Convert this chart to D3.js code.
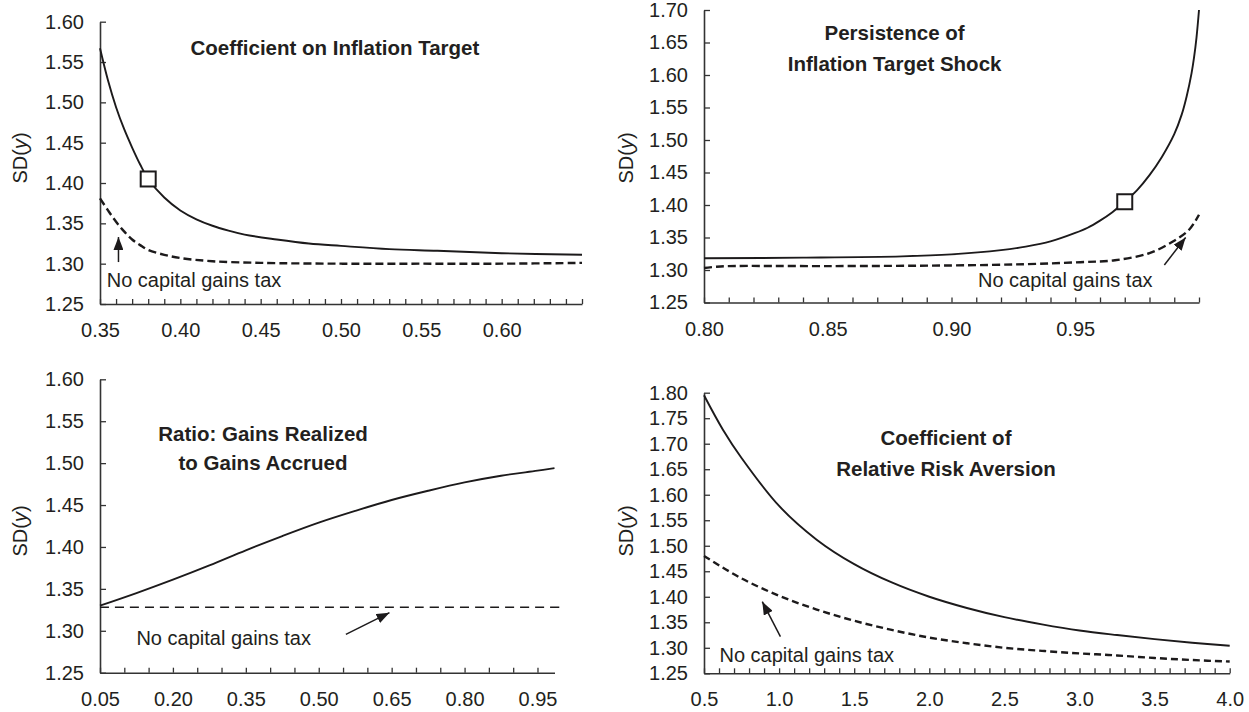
<!DOCTYPE html>
<html><head><meta charset="utf-8">
<script src="https://cdn.jsdelivr.net/npm/d3@7"></script>
<style>
body{margin:0;background:#fff}
text{font-family:"Liberation Sans",Arial,Helvetica,sans-serif;fill:#231f20}
</style>
</head><body>
<svg id="chart" width="1249" height="712"></svg>
<script>
// ---------- Panel 1: Coefficient on Inflation Target ----------
const p1SolidX  = [0.35,0.355,0.36,0.365,0.37,0.375,0.38,0.39,0.40,0.41,0.42,0.43,0.44,0.46,0.48,0.50,0.53,0.56,0.60,0.65];
const p1SolidY  = [1.567,1.527,1.494,1.467,1.444,1.423,1.405,1.382,1.366,1.355,1.347,1.341,1.336,1.330,1.325,1.322,1.318,1.316,1.313,1.311];
const p1DashX   = [0.35,0.355,0.36,0.365,0.37,0.375,0.38,0.39,0.40,0.42,0.45,0.50,0.55,0.60,0.65];
const p1DashY   = [1.381,1.366,1.352,1.340,1.330,1.323,1.317,1.311,1.307,1.303,1.301,1.300,1.300,1.300,1.301];
const p1Marker  = [0.38,1.405];
const p1XLabels = [0.35,0.40,0.45,0.50,0.55,0.60];
const p1YLabels = [1.25,1.30,1.35,1.40,1.45,1.50,1.55,1.60];
const p1Title   = ["Coefficient on Inflation Target"];

// ---------- Panel 2: Persistence of Inflation Target Shock ----------
const p2SolidX  = [0.80,0.84,0.88,0.90,0.92,0.93,0.94,0.95,0.955,0.96,0.965,0.97,0.975,0.98,0.985,0.99,0.993,0.995,0.997,0.998,0.999,1.00];
const p2SolidY  = [1.318,1.319,1.321,1.324,1.3305,1.336,1.344,1.357,1.365,1.376,1.389,1.405,1.423,1.446,1.474,1.509,1.539,1.567,1.603,1.627,1.658,1.700];
const p2DashX   = [0.80,0.805,0.81,0.85,0.90,0.93,0.952,0.966,0.98,0.99,0.996,1.00];
const p2DashY   = [1.303,1.305,1.306,1.306,1.307,1.309,1.312,1.315,1.326,1.345,1.362,1.385];
const p2Marker  = [0.97,1.405];
const p2XLabels = [0.80,0.85,0.90,0.95];
const p2YLabels = [1.25,1.30,1.35,1.40,1.45,1.50,1.55,1.60,1.65,1.70];
const p2Title   = ["Persistence of","Inflation Target Shock"];

// ---------- Panel 3: Ratio: Gains Realized to Gains Accrued ----------
const p3SolidX  = [0.05,0.125,0.20,0.275,0.35,0.425,0.50,0.575,0.65,0.725,0.80,0.875,0.95,0.985];
const p3SolidY  = [1.330,1.345,1.361,1.378,1.396,1.413,1.429,1.443,1.456,1.467,1.477,1.485,1.491,1.494];
const p3DashX   = [0.05,0.35,0.65,1.00];
const p3DashY   = [1.328,1.328,1.328,1.328];
const p3XLabels = [0.05,0.20,0.35,0.50,0.65,0.80,0.95];
const p3YLabels = [1.25,1.30,1.35,1.40,1.45,1.50,1.55,1.60];
const p3Title   = ["Ratio: Gains Realized","to Gains Accrued"];

// ---------- Panel 4: Coefficient of Relative Risk Aversion ----------
const p4SolidX  = [0.5,0.625,0.75,1.0,1.25,1.5,1.75,2.0,2.25,2.5,2.75,3.0,3.25,3.5,3.75,4.0];
const p4SolidY  = [1.795,1.728,1.672,1.578,1.512,1.464,1.428,1.400,1.378,1.360,1.346,1.334,1.325,1.317,1.310,1.304];
const p4DashX   = [0.5,0.75,1.0,1.25,1.5,1.75,2.0,2.25,2.5,2.75,3.0,3.25,3.5,3.75,4.0];
const p4DashY   = [1.480,1.436,1.402,1.375,1.353,1.335,1.320,1.309,1.300,1.294,1.289,1.285,1.280,1.276,1.273];
const p4XLabels = [0.5,1.0,1.5,2.0,2.5,3.0,3.5,4.0];
const p4YLabels = [1.25,1.30,1.35,1.40,1.45,1.50,1.55,1.60,1.65,1.70,1.75,1.80];
const p4Title   = ["Coefficient of","Relative Risk Aversion"];

const noteText = "No capital gains tax";

// ---------- layout ----------
const svg = d3.select("#chart");
const INK = "#1c1a1b", AXIS = "#333";
const FS = "20px";

svg.append("defs").append("marker")
  .attr("id","ah").attr("viewBox","0 0 13 10").attr("refX",13).attr("refY",5)
  .attr("markerWidth",13).attr("markerHeight",10).attr("markerUnits","userSpaceOnUse")
  .attr("orient","auto")
  .append("path").attr("d","M0,0L13,5L0,10z").attr("fill",INK);

const panels = [
  {box:[100,582,21.7,304], xd:[0.35,0.65], yd:[1.25,1.60], minor:0.01, fmt:d3.format(".2f"),
   xl:p1XLabels, yl:p1YLabels, solid:[p1SolidX,p1SolidY], dash:[p1DashX,p1DashY], dashStyle:"8,4", dashW:2.4,
   marker:p1Marker, title:p1Title, titlePos:[0.4962,1.5587], lineGap:0,
   note:[0.3542,1.2715], arrow:[[0.3615,1.302],[0.3615,1.333]], ylab:[20,158]},
  {box:[704,1199,10,302.5], xd:[0.80,1.00], yd:[1.25,1.70], minor:0.01, fmt:d3.format(".2f"),
   xl:p2XLabels, yl:p2YLabels, solid:[p2SolidX,p2SolidY], dash:[p2DashX,p2DashY], dashStyle:"8,4", dashW:2.4,
   marker:p2Marker, title:p2Title, titlePos:[0.877,1.6538], lineGap:30.7,
   note:[0.9107,1.2743], arrow:[[0.986,1.3077],[0.9946,1.350]], ylab:[626,158]},
  {box:[100,554.5,379.3,672.7], xd:[0.05,0.985], yd:[1.25,1.60], minor:0.05, fmt:d3.format(".2f"),
   xl:p3XLabels, yl:p3YLabels, solid:[p3SolidX,p3SolidY], dash:[p3DashX,p3DashY], dashStyle:"9,6", dashW:1.4,
   marker:null, title:p3Title, titlePos:[0.3854,1.5264], lineGap:29,
   note:[0.1249,1.283], arrow:[[0.5558,1.2958],[0.6455,1.3216]], ylab:[20,531]},
  {box:[704,1229.7,392.7,673.3], xd:[0.5,4.0], yd:[1.25,1.80], minor:0.1, fmt:d3.format(".1f"),
   xl:p4XLabels, yl:p4YLabels, solid:[p4SolidX,p4SolidY], dash:[p4DashX,p4DashY], dashStyle:"7,4", dashW:2.4,
   marker:null, title:p4Title, titlePos:[2.111,1.6975], lineGap:30.7,
   note:[0.603,1.2727], arrow:[[1.0087,1.3218],[0.888,1.3904]], ylab:[626,531]}
];

panels.forEach(p => {
  const [x0,x1,y0,y1] = p.box;
  const x = d3.scaleLinear().domain(p.xd).range([x0,x1]);
  const y = d3.scaleLinear().domain(p.yd).range([y1,y0]);
  const g = svg.append("g");

  const n = Math.round((p.xd[1]-p.xd[0])/p.minor + 1e-6);
  const tv = d3.range(0,n+1).map(i => +(p.xd[0]+i*p.minor).toFixed(4)).filter(v => v <= p.xd[1]+1e-9);
  const labelSet = new Set(p.xl.map(v => v.toFixed(3)));

  const xa = d3.axisBottom(x).tickValues(tv).tickSizeInner(-5).tickSizeOuter(0).tickPadding(19)
    .tickFormat(v => labelSet.has(v.toFixed(3)) ? p.fmt(v) : "");
  const gx = g.append("g").attr("transform",`translate(0,${y1})`).call(xa);
  const ya = d3.axisLeft(y).tickValues(p.yl).tickSizeInner(-6).tickSizeOuter(0).tickPadding(16).tickFormat(d3.format(".2f"));
  const gy = g.append("g").attr("transform",`translate(${x0},0)`).call(ya);
  [gx,gy].forEach(a => {
    a.selectAll("path.domain").attr("stroke",AXIS).attr("stroke-width",1.6);
    a.selectAll(".tick line").attr("stroke",AXIS).attr("stroke-width",1.3);
    a.selectAll("text").attr("font-size",FS).attr("fill","#231f20")
      .attr("font-family","'Liberation Sans',Arial,sans-serif");
  });

  const line = d3.line().x(d=>x(d[0])).y(d=>y(d[1])).curve(d3.curveCatmullRom.alpha(0.5));
  const dashPts = p.dash[0].map((v,i)=>[v,p.dash[1][i]]);
  const solidPts = p.solid[0].map((v,i)=>[v,p.solid[1][i]]);
  g.append("path").attr("d",line(dashPts)).attr("fill","none").attr("stroke",INK)
    .attr("stroke-width",p.dashW).attr("stroke-dasharray",p.dashStyle);
  g.append("path").attr("d",line(solidPts)).attr("fill","none").attr("stroke",INK).attr("stroke-width",1.9);

  if (p.marker) {
    g.append("rect").attr("x",x(p.marker[0])-7.5).attr("y",y(p.marker[1])-7.5)
      .attr("width",15).attr("height",15).attr("fill","#fff").attr("stroke",INK).attr("stroke-width",2);
  }

  const t = g.append("text").attr("text-anchor","middle").attr("font-weight","bold").attr("font-size","20.5px")
    .attr("x",x(p.titlePos[0])).attr("y",y(p.titlePos[1]));
  p.title.forEach((s,i) => t.append("tspan").attr("x",x(p.titlePos[0])).attr("dy", i===0?0:p.lineGap).text(s));

  g.append("text").attr("x",x(p.note[0])).attr("y",y(p.note[1])).attr("font-size",FS).text(noteText);
  g.append("line").attr("x1",x(p.arrow[0][0])).attr("y1",y(p.arrow[0][1]))
    .attr("x2",x(p.arrow[1][0])).attr("y2",y(p.arrow[1][1]))
    .attr("stroke",INK).attr("stroke-width",1.5).attr("marker-end","url(#ah)");

  const yt = g.append("text").attr("transform",`translate(${p.ylab[0]},${p.ylab[1]}) rotate(-90)`)
    .attr("text-anchor","middle").attr("dy","0.35em").attr("font-size",FS);
  yt.append("tspan").text("SD(");
  yt.append("tspan").attr("font-style","italic").text("y");
  yt.append("tspan").text(")");
});
</script>
</body></html>
